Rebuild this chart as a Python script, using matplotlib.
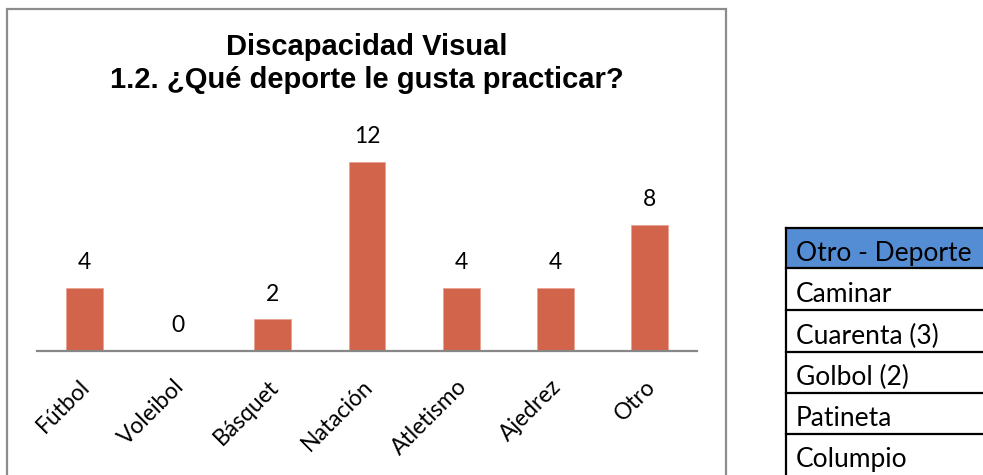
import matplotlib
matplotlib.use('Agg')
import matplotlib.pyplot as plt
from matplotlib.patches import Rectangle
from matplotlib.lines import Line2D
from matplotlib.transforms import ScaledTranslation

categories = ['Fútbol', 'Voleibol', 'Básquet', 'Natación', 'Atletismo', 'Ajedrez', 'Otro']
values = [4, 0, 2, 12, 4, 4, 8]
title_lines = ['Discapacidad Visual', '1.2. ¿Qué deporte le gusta practicar?']
table_header = 'Otro - Deporte'
table_rows = ['Caminar', 'Cuarenta (3)', 'Golbol (2)', 'Patineta', 'Columpio']

W, H = 983, 475
fig = plt.figure(figsize=(W / 100, H / 100), dpi=100)

def fx(px):
    return px / W

def fy(py):
    return 1 - py / H

bar_color = '#D2644B'
label_font = 'Lato'

# chart frame (runs off the bottom of the picture)
fig.patches.append(Rectangle((fx(7), fy(490)), fx(726) - fx(7), fy(9) - fy(490),
                             transform=fig.transFigure, fill=False,
                             edgecolor='#8C8C8C', lw=1.6, clip_on=False))

# bar axes: baseline at y=351px, ylim 14 -> top at 130px
ax = fig.add_axes([fx(37), fy(351), fx(697) - fx(37), fy(130) - fy(351)])
x = range(len(categories))
ax.bar(x, values, width=0.39, color=bar_color, edgecolor='#E9A393', linewidth=0.6)
ax.set_xlim(-0.5, len(categories) - 0.5)
ax.set_ylim(0, 14)
for s in ['top', 'right', 'left']:
    ax.spines[s].set_visible(False)
ax.spines['bottom'].set_color('#878787')
ax.spines['bottom'].set_linewidth(1.6)
ax.set_yticks([])
ax.set_xticks(list(x))
ax.set_xticklabels(categories, rotation=45, ha='right', rotation_mode='anchor',
                   fontsize=16.5, family=label_font)
ax.tick_params(axis='x', length=0, pad=18)
shift = ScaledTranslation(-5 / 100, 0, fig.dpi_scale_trans)
for lbl in ax.get_xticklabels():
    lbl.set_transform(lbl.get_transform() + shift)
ax.patch.set_alpha(0)

for i, v in enumerate(values):
    ax.annotate(str(v), (i, v), xytext=(0, 18), textcoords='offset points',
                ha='center', va='center', fontsize=16.5, family=label_font)

fig.text(fx(367), fy(47), title_lines[0], ha='center', va='center',
         fontsize=21, fontweight='bold', family='Liberation Sans')
fig.text(fx(367), fy(80), title_lines[1], ha='center', va='center',
         fontsize=21, fontweight='bold', family='Liberation Sans')

# table on the right
left, top = 786, 228
row_edges = [228, 268, 310, 352, 393, 434, 476]
fig.patches.append(Rectangle((fx(left), fy(row_edges[1])), fx(1000) - fx(left),
                             fy(row_edges[0]) - fy(row_edges[1]),
                             transform=fig.transFigure, facecolor='#548DD4',
                             edgecolor='none', clip_on=False))
for yy in row_edges[:-1]:
    fig.lines.append(Line2D([fx(left), fx(1000)], [fy(yy), fy(yy)],
                            transform=fig.transFigure, color='black', lw=1.6))
fig.lines.append(Line2D([fx(left), fx(left)], [fy(top), fy(490)],
                        transform=fig.transFigure, color='black', lw=1.6))
texts = [table_header] + table_rows
for i, t in enumerate(texts):
    yc = (row_edges[i] + row_edges[i + 1]) / 2 + 5
    fig.text(fx(left + 10), fy(yc), t, ha='left', va='center',
             fontsize=19, family=label_font)

fig.savefig('out.png', dpi=100)
